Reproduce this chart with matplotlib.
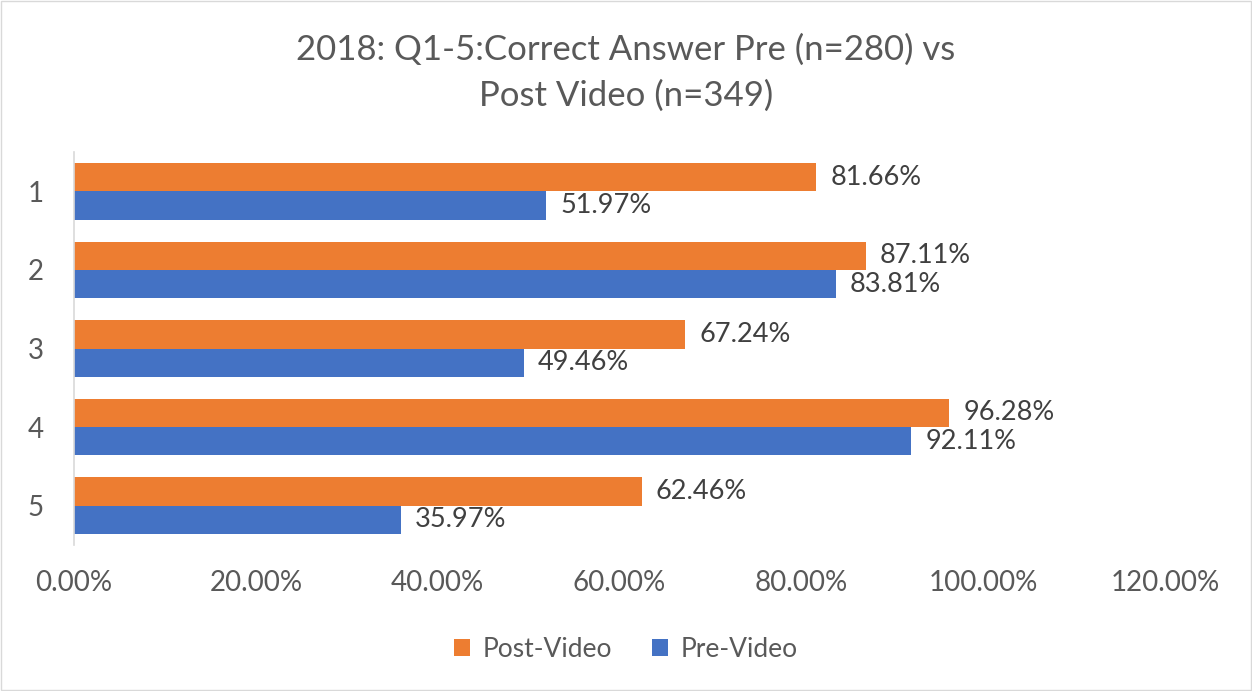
import matplotlib.pyplot as plt
import numpy as np
from matplotlib.patches import Rectangle

questions = ["1", "2", "3", "4", "5"]
post_video = [81.66, 87.11, 67.24, 96.28, 62.46]
pre_video = [51.97, 83.81, 49.46, 92.11, 35.97]
x_ticks = [0, 20, 40, 60, 80, 100, 120]

orange = "#ED7D31"
blue = "#4472C4"
text_color = "#595959"

plt.rcParams["font.family"] = ["Lato", "DejaVu Sans"]

fig = plt.figure(figsize=(12.52, 6.91), dpi=100)
ax = fig.add_axes([0.0591, 0.2113, 0.8714, 0.5687])

y = np.arange(1, len(questions) + 1)
h = 0.36
ax.barh(y - h / 2, post_video, height=h, color=orange, label="Post-Video")
ax.barh(y + h / 2, pre_video, height=h, color=blue, label="Pre-Video")

for yi, v in zip(y - h / 2, post_video):
    ax.annotate(f"{v:.2f}%", (v, yi), xytext=(10, 0), textcoords="offset points",
                va="center", ha="left", fontsize=19.5, color="#404040")
for yi, v in zip(y + h / 2, pre_video):
    ax.annotate(f"{v:.2f}%", (v, yi), xytext=(10, 0), textcoords="offset points",
                va="center", ha="left", fontsize=19.5, color="#404040")

ax.set_xlim(0, 120)
ax.set_ylim(5.5, 0.5)
ax.set_xticks(x_ticks)
ax.set_xticklabels([f"{t:.2f}%" for t in x_ticks])
ax.set_yticks(y)
ax.set_yticklabels(questions)
ax.tick_params(axis="x", length=0, pad=18, labelsize=20, labelcolor=text_color)
ax.tick_params(axis="y", length=0, pad=22, labelsize=20, labelcolor=text_color)

for s in ["top", "right", "bottom"]:
    ax.spines[s].set_visible(False)
ax.spines["left"].set_color("#D9D9D9")
ax.spines["left"].set_linewidth(1.2)

fig.suptitle("2018: Q1-5:Correct Answer Pre (n=280) vs\nPost Video (n=349)",
             x=0.5, y=0.952, va="top", fontsize=25, color=text_color, linespacing=1.55)

fig.legend(loc="center", bbox_to_anchor=(0.5, 0.06), ncol=2, frameon=False,
           fontsize=19, labelcolor=text_color, handlelength=0.6, handleheight=0.6,
           columnspacing=1.5, handletextpad=0.5)

fig.patches.append(Rectangle((0.001, 0.001), 0.998, 0.998, transform=fig.transFigure,
                             fill=False, edgecolor="#D9D9D9", linewidth=1))

fig.savefig("out.png", dpi=100)
